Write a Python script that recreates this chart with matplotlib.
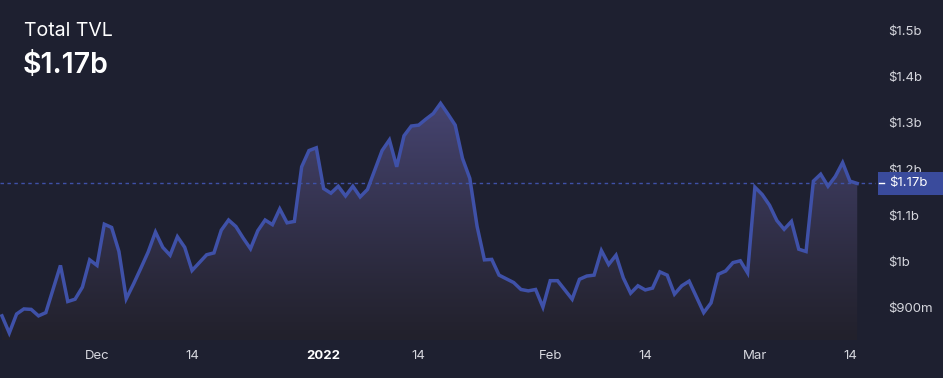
import matplotlib
matplotlib.use("Agg")
import matplotlib.pyplot as plt
import matplotlib.dates as mdates
import matplotlib.transforms as mtransforms
from matplotlib.patches import Polygon, Rectangle
from matplotlib.lines import Line2D
import numpy as np
import pandas as pd

# ---- data (billions USD), daily from 2021-11-18 to 2022-03-15 ----
start_date = "2021-11-18"
end_date = "2022-03-15"
tvl_nov = [0.883, 0.846, 0.887, 0.898, 0.897, 0.883, 0.890, 0.941, 0.992, 0.914,
           0.919, 0.945, 1.004]
tvl_dec = [0.992, 1.081, 1.074, 1.022, 0.920, 0.952, 0.986, 1.021, 1.064, 1.031,
           1.014, 1.054, 1.031, 0.981, 0.998, 1.015, 1.019, 1.068, 1.090, 1.076,
           1.051, 1.028, 1.067, 1.090, 1.080, 1.114, 1.084, 1.087, 1.205, 1.240,
           1.246]
tvl_jan = [1.158, 1.148, 1.163, 1.142, 1.163, 1.140, 1.156, 1.198, 1.240, 1.263,
           1.205, 1.272, 1.293, 1.295, 1.308, 1.320, 1.342, 1.319, 1.295, 1.223,
           1.180, 1.076, 1.004, 1.005, 0.971, 0.963, 0.955, 0.940, 0.937, 0.940,
           0.902]
tvl_feb = [0.959, 0.959, 0.939, 0.919, 0.962, 0.969, 0.971, 1.024, 0.994, 1.014,
           0.965, 0.932, 0.948, 0.939, 0.943, 0.978, 0.971, 0.930, 0.948, 0.958,
           0.924, 0.890, 0.911, 0.973, 0.980, 0.998, 1.002, 0.976]
tvl_mar = [1.161, 1.145, 1.122, 1.089, 1.070, 1.087, 1.027, 1.022, 1.174, 1.189,
           1.163, 1.184, 1.214, 1.174, 1.169]

y_ticks = [0.9, 1.0, 1.1, 1.2, 1.3, 1.4, 1.5]
y_tick_labels = ["$900m", "$1b", "$1.1b", "$1.2b", "$1.3b", "$1.4b", "$1.5b"]
x_tick_dates = ["2021-12-01", "2021-12-14", "2022-01-01", "2022-01-14",
                "2022-02-01", "2022-02-14", "2022-03-01", "2022-03-14"]
x_tick_labels = ["Dec", "14", "2022", "14", "Feb", "14", "Mar", "14"]
title = "Total TVL"
current_label = "$1.17b"

values = np.array(tvl_nov + tvl_dec + tvl_jan + tvl_feb + tvl_mar)
dates = pd.date_range(start_date, end_date, freq="D")
xnum = mdates.date2num(dates)

# ---- style ----
BG = "#1e2030"
LINE = "#3f51a8"
TXT = "#d6d7de"
W, H = 943, 378
fig = plt.figure(figsize=(W / 100, H / 100), dpi=100, facecolor=BG)

ax_left, ax_right = 0 / W, 876 / W
ax_top, ax_bot = 0 / H, 340 / H
ax = fig.add_axes([ax_left, 1 - ax_bot, ax_right - ax_left, ax_bot - ax_top])
ax.set_facecolor(BG)

dec1 = mdates.date2num(pd.Timestamp("2021-12-01"))
px_per_day = 7.31
x0 = dec1 - 97 / px_per_day
x1 = dec1 + (876 - 97) / px_per_day
px_per_unit = 463.0
ymax = 1 + 261.7 / px_per_unit
ymin = 1 + (261.7 - 340) / px_per_unit

# gradient fill under the line
grad_top = np.array([70, 68, 112]) / 255
grad_bot = np.array([34, 33, 44]) / 255
n = 256
t = np.linspace(0, 1, n)[:, None]
grad = grad_bot + (grad_top - grad_bot) * t ** 1.1
img = np.tile(grad[:, None, :], (1, 2, 1))
top_val = values.max()
im = ax.imshow(img, extent=[x0, x1, ymin, top_val], origin="lower",
               aspect="auto", zorder=1, interpolation="bilinear")
verts = list(zip(xnum, values)) + [(xnum[-1], ymin), (xnum[0], ymin)]
poly = Polygon(verts, closed=True, facecolor="none", edgecolor="none")
ax.add_patch(poly)
im.set_clip_path(poly)

ax.plot(xnum, values, color=LINE, lw=2.5, zorder=3, solid_joinstyle="miter")

last = values[-1]
ax.axhline(last, color=LINE, lw=1.0, dashes=(2.5, 2.5), zorder=2)

ax.set_xlim(x0, x1)
ax.set_ylim(ymin, ymax)

for s in ax.spines.values():
    s.set_visible(False)

ax.yaxis.tick_right()
ax.set_yticks(y_ticks)
ax.set_yticklabels(y_tick_labels)
ax.tick_params(axis="y", length=0, pad=9, labelsize=9.5, labelcolor=TXT)
for lab in ax.get_yticklabels():
    lab.set_horizontalalignment("left")
    lab.set_family("Inter")

ax.set_xticks(mdates.date2num(pd.to_datetime(x_tick_dates)))
ax.set_xticklabels(x_tick_labels)
ax.tick_params(axis="x", length=0, pad=7, labelsize=9.5, labelcolor=TXT)
for lab in ax.get_xticklabels():
    lab.set_family("Inter")
    if lab.get_text() == "2022":
        lab.set_fontweight("bold")
        lab.set_color("white")

# current value badge
blend = mtransforms.blended_transform_factory(fig.transFigure, ax.transData)
box_h = 23 / px_per_unit
badge = Rectangle((878 / W, last - box_h / 2), 65 / W, box_h, transform=blend,
                  facecolor="#3a4b9c", edgecolor="none", clip_on=False,
                  zorder=5)
fig.add_artist(badge)
fig.text(889 / W, 0, current_label, transform=blend, fontsize=9.5,
         color="white", family="Inter", va="center", ha="left", zorder=6)
fig.texts[-1].set_y(last)
dash = Line2D([879 / W, 884 / W], [last, last], transform=blend,
              color="white", lw=1, zorder=7)
fig.add_artist(dash)

fig.text(24 / W, 1 - 35.5 / H, title, fontsize=14, color="white",
         family="Inter", va="baseline", ha="left")
fig.text(23 / W, 1 - 72.5 / H, current_label, fontsize=20.5, color="white",
         family="Inter", fontweight="semibold", va="baseline", ha="left")

fig.savefig("out.png", dpi=100, facecolor=BG)
